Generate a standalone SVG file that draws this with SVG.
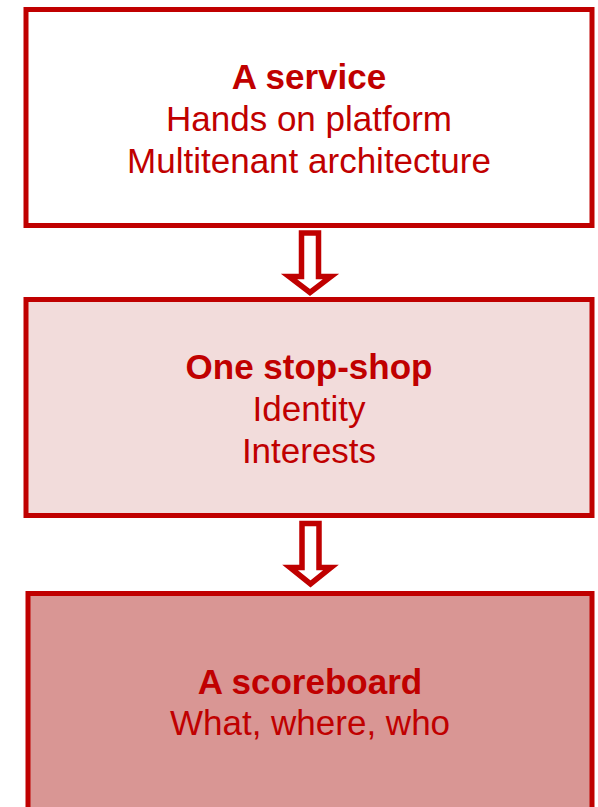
<svg xmlns="http://www.w3.org/2000/svg" width="598" height="807" viewBox="0 0 598 807">
<style>
.box{stroke:#C00000;stroke-width:5}
.arrow{fill:#FFFFFF;stroke:#C00000;stroke-width:5.5;stroke-linejoin:miter}
text{font-family:"Liberation Sans",Arial,sans-serif;font-size:35px;fill:#C00000;text-anchor:middle}
.b{font-weight:bold}
</style>
<rect width="598" height="807" fill="#FFFFFF"/>
<g id="service">
<rect class="box" x="26" y="9.5" width="566" height="216" fill="#FFFFFF"/>
<text class="b" x="309" y="88.5">A service</text>
<text x="309" y="131">Hands on platform</text>
<text x="309" y="173">Multitenant architecture</text>
</g>
<g id="onestop">
<rect class="box" x="26" y="299.5" width="566" height="216" fill="#F2DCDB"/>
<text class="b" x="309" y="378.5">One stop-shop</text>
<text x="309" y="421">Identity</text>
<text x="309" y="462.5">Interests</text>
</g>
<g id="scoreboard">
<rect class="box" x="28" y="593.5" width="564" height="230" fill="#D99694"/>
<text class="b" x="310" y="693.5">A scoreboard</text>
<text x="310" y="734.5">What, where, who</text>
</g>
<g id="connectors">
<polygon class="arrow" points="301.5,233 318.5,233 318.5,276.5 331,276.5 310,292.5 289,276.5 301.5,276.5"/>
<polygon class="arrow" points="302,523.5 319,523.5 319,567.5 331,567.5 310.5,584 290,567.5 302,567.5"/>
</g>
</svg>
